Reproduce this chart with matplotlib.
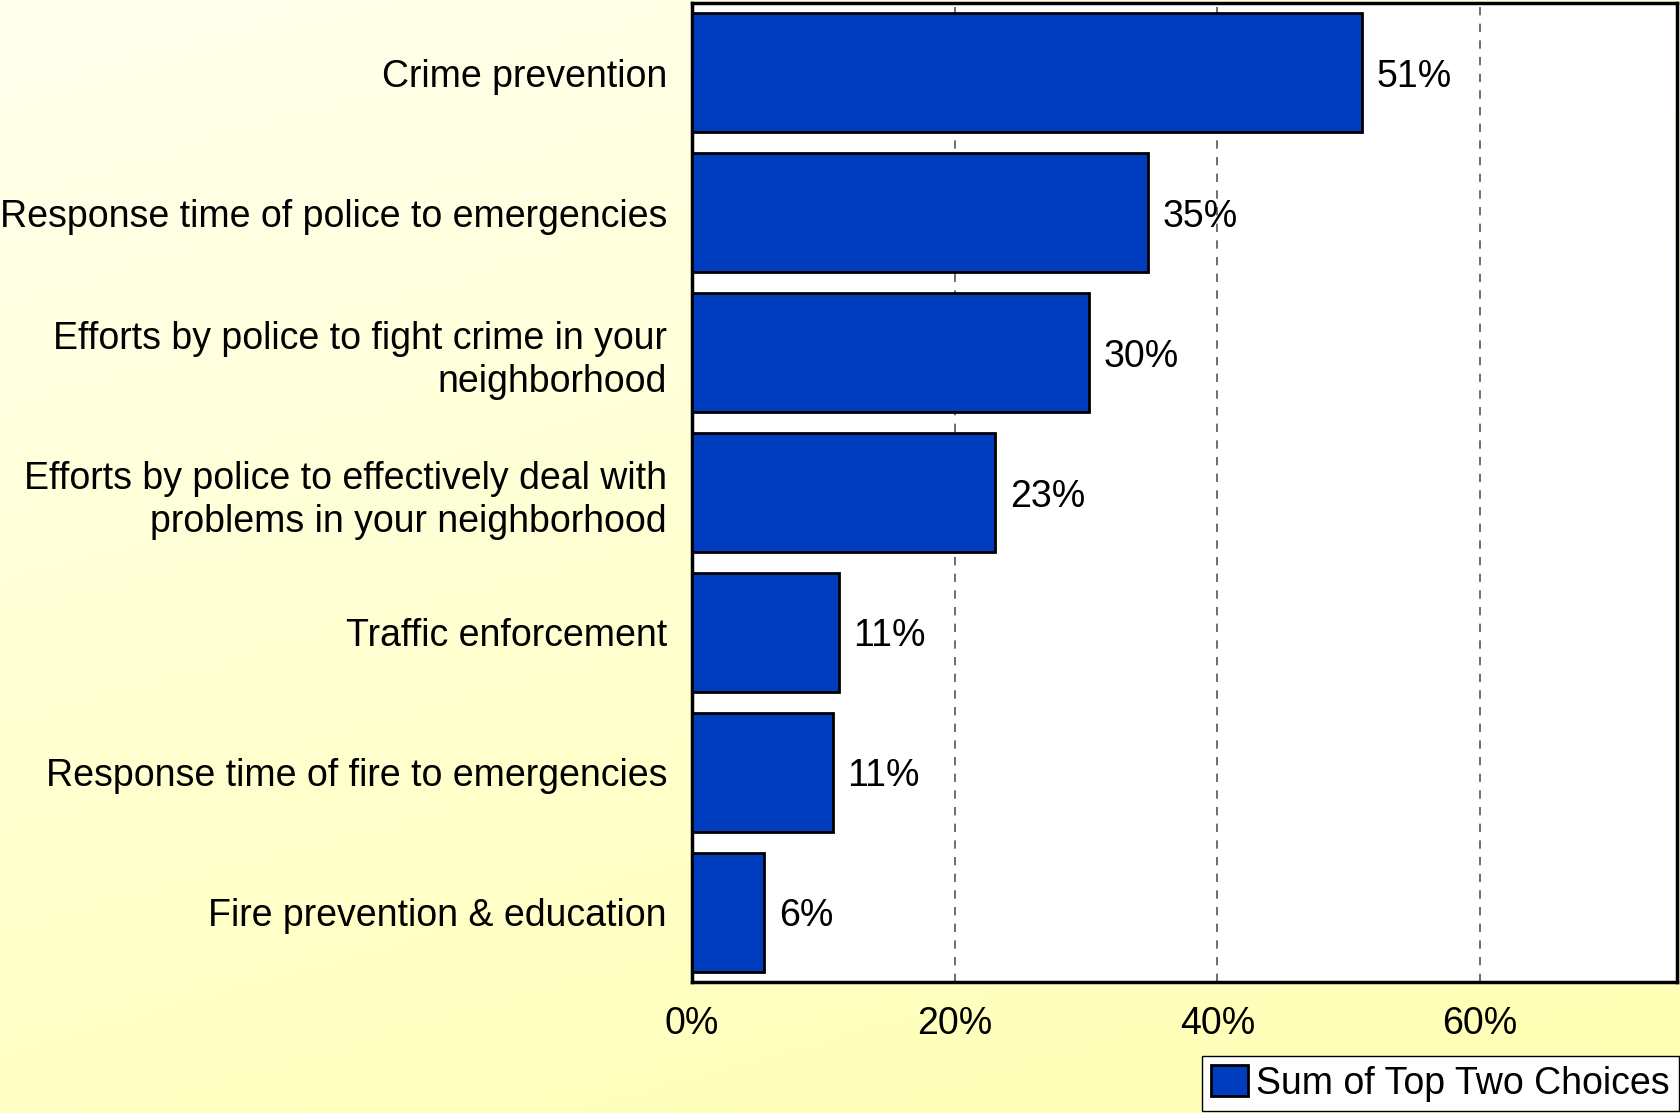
import numpy as np
import matplotlib.pyplot as plt
from matplotlib.colors import LinearSegmentedColormap

plt.rcParams['font.family'] = ['Liberation Sans', 'DejaVu Sans']

# data (top to bottom)
categories = ['Crime prevention',
              'Response time of police to emergencies',
              'Efforts by police to fight crime in your\nneighborhood',
              'Efforts by police to effectively deal with\nproblems in your neighborhood',
              'Traffic enforcement',
              'Response time of fire to emergencies',
              'Fire prevention & education']
values = [51.0, 34.7, 30.2, 23.1, 11.2, 10.7, 5.5]
labels = ['51%', '35%', '30%', '23%', '11%', '11%', '6%']
xticks = [0, 20, 40, 60]

fig = plt.figure(figsize=(16.81, 11.13), dpi=100)

# background gradient, whitish top-left to yellow bottom-right
bg = fig.add_axes([0, 0, 1, 1], zorder=-10)
xx, yy = np.meshgrid(np.linspace(0, 1, 300), np.linspace(0, 1, 200))
grad = 0.3 * xx + 0.7 * yy
cmap_bg = LinearSegmentedColormap.from_list('bg', ['#FFFFEE', '#FFFFB2'])
bg.imshow(grad, cmap=cmap_bg, aspect='auto', extent=[0, 1, 1, 0])
bg.axis('off')

ax = fig.add_axes([692 / 1681, 1 - 982 / 1113, (1677 - 692) / 1681, (982 - 3) / 1113])
ax.set_facecolor('white')

y = np.arange(len(categories))
bars = ax.barh(y, values, height=0.85, color='#003CBE', edgecolor='black',
               linewidth=2, label='Sum of Top Two Choices', zorder=3)
for yi, v, lab in zip(y, values, labels):
    ax.text(v + 1.1, yi, lab, va='center_baseline', ha='left', fontsize=27, zorder=4)

ax.set_xlim(0, 75)
ax.set_ylim(len(categories) - 0.5, -0.5)
ax.set_xticks(xticks)
ax.set_xticklabels([f'{t}%' for t in xticks], fontsize=27)
ax.set_yticks(y)
ax.set_yticklabels(categories, fontsize=27, linespacing=1.25)
ax.tick_params(axis='both', length=0)
ax.tick_params(axis='y', pad=18)
ax.tick_params(axis='x', pad=17)
ax.xaxis.grid(True, linestyle=(0, (5, 5)), color='#555555', linewidth=1.2, zorder=0)
for s in ax.spines.values():
    s.set_linewidth(2.5)
    s.set_color('black')

fig.legend(handles=[bars], labels=['Sum of Top Two Choices'], loc='lower right',
           bbox_to_anchor=(1679 / 1681, 2 / 1113), fontsize=27, frameon=True,
           fancybox=False, edgecolor='black', framealpha=1, handlelength=1.0,
           handleheight=0.9, handletextpad=0.2, borderpad=0.25, borderaxespad=0)

fig.savefig('out.png', dpi=100)
